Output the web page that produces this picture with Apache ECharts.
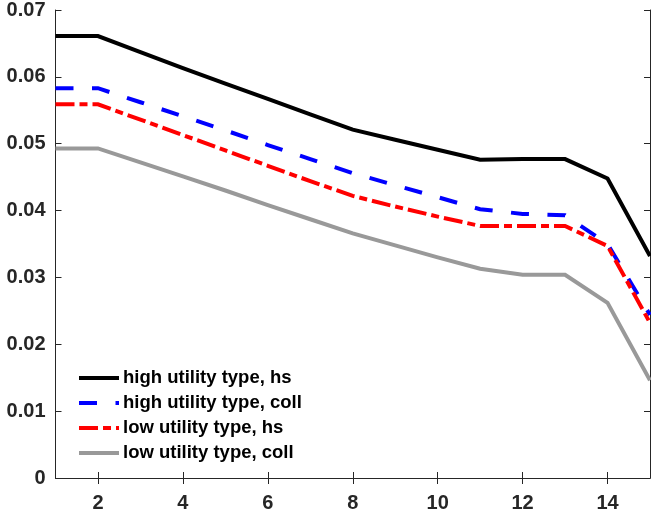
<!DOCTYPE html>
<html>
<head>
<meta charset="utf-8">
<script src="https://cdn.jsdelivr.net/npm/echarts@6/dist/echarts.min.js"></script>
<style>
html,body{margin:0;padding:0;background:#fff;}
#chart{width:651px;height:513px;}
</style>
</head>
<body>
<div id="chart"></div>
<script>
var categories = ['1','2','3','4','5','6','7','8','9','10','11','12','13','14','15'];
var highHs   = [0.0661,0.0661,0.0637,0.0613,0.0590,0.0567,0.0544,0.0521,0.0506,0.0491,0.0476,0.0477,0.0477,0.0448,0.0332];
var highColl = [0.0583,0.0583,0.0562,0.0541,0.0520,0.0498,0.0477,0.0456,0.0438,0.0420,0.0402,0.0395,0.0393,0.0350,0.0244];
var lowHs    = [0.0559,0.0559,0.0536,0.0513,0.0490,0.0467,0.0444,0.0422,0.0406,0.0391,0.0377,0.0377,0.0377,0.0347,0.0232];
var lowColl  = [0.0493,0.0493,0.0472,0.0451,0.0430,0.0408,0.0387,0.0366,0.0348,0.0330,0.0313,0.0304,0.0304,0.0262,0.0146];
var seriesNames = ['high utility type, hs','high utility type, coll','low utility type, hs','low utility type, coll'];

var axisColor = '#262626';
var evenOnly = function (idx, val) { return Number(val) % 2 === 0; };

var chart = echarts.init(document.getElementById('chart'));
function mkSeries(name, data, color, type) {
  return {
    name: name, type: 'line', data: data, symbol: 'none', showSymbol: false,
    xAxisIndex: 0, yAxisIndex: 0,
    lineStyle: { color: color, width: 4, type: type, cap: 'butt', join: 'miter' },
    itemStyle: { color: color },
    emphasis: { disabled: true },
    animation: false
  };
}
var option = {
  animation: false,
  grid: { left: 55.5, right: 1, top: 10, bottom: 34, containLabel: false },
  legend: {
    left: 77, top: 368, orient: 'vertical', padding: 0,
    itemWidth: 40, itemHeight: 20, itemGap: 5,
    itemStyle: { opacity: 0 },
    lineStyle: { width: 4 },
    textStyle: { fontFamily: 'Liberation Sans, Arial, sans-serif', fontWeight: 'bold', fontSize: 18.5, lineHeight: 20, color: '#000', padding: [0,0,0,-1] },
    data: seriesNames
  },
  xAxis: [{
    type: 'category', data: categories, boundaryGap: false, position: 'bottom',
    axisLine: { lineStyle: { color: axisColor, width: 1 } },
    axisTick: { inside: true, length: 6, interval: evenOnly, lineStyle: { color: axisColor } },
    axisLabel: { interval: evenOnly, color: axisColor, fontWeight: 'bold', fontSize: 20, fontFamily: 'Liberation Sans, Arial, sans-serif', margin: 15 },
    splitLine: { show: false }
  }, {
    type: 'category', data: categories, boundaryGap: false, position: 'top',
    axisLine: { lineStyle: { color: axisColor, width: 1 } },
    axisTick: { inside: true, length: 6, interval: evenOnly, lineStyle: { color: axisColor } },
    axisLabel: { show: false },
    splitLine: { show: false }
  }],
  yAxis: [{
    type: 'value', min: 0, max: 0.07, interval: 0.01, position: 'left',
    axisLine: { show: true, lineStyle: { color: axisColor, width: 1 } },
    axisTick: { show: true, inside: true, length: 6, lineStyle: { color: axisColor } },
    axisLabel: { color: axisColor, fontWeight: 'bold', fontSize: 20, fontFamily: 'Liberation Sans, Arial, sans-serif', margin: 10,
      padding: [4, 0, 0, 0],
      formatter: function (v) { return v === 0 ? '0' : v.toFixed(2); } },
    splitLine: { show: false }
  }, {
    type: 'value', min: 0, max: 0.07, interval: 0.01, position: 'right',
    axisLine: { show: true, lineStyle: { color: axisColor, width: 1 } },
    axisTick: { show: true, inside: true, length: 6, lineStyle: { color: axisColor } },
    axisLabel: { show: false },
    splitLine: { show: false }
  }],
  series: [
    mkSeries(seriesNames[0], highHs, '#000000', 'solid'),
    mkSeries(seriesNames[1], highColl, '#0000ff', [18, 18.5]),
    mkSeries(seriesNames[2], lowHs, '#ff0000', [19, 5, 8, 5]),
    mkSeries(seriesNames[3], lowColl, '#999999', 'solid')
  ]
};
chart.setOption(option);
</script>
</body>
</html>
